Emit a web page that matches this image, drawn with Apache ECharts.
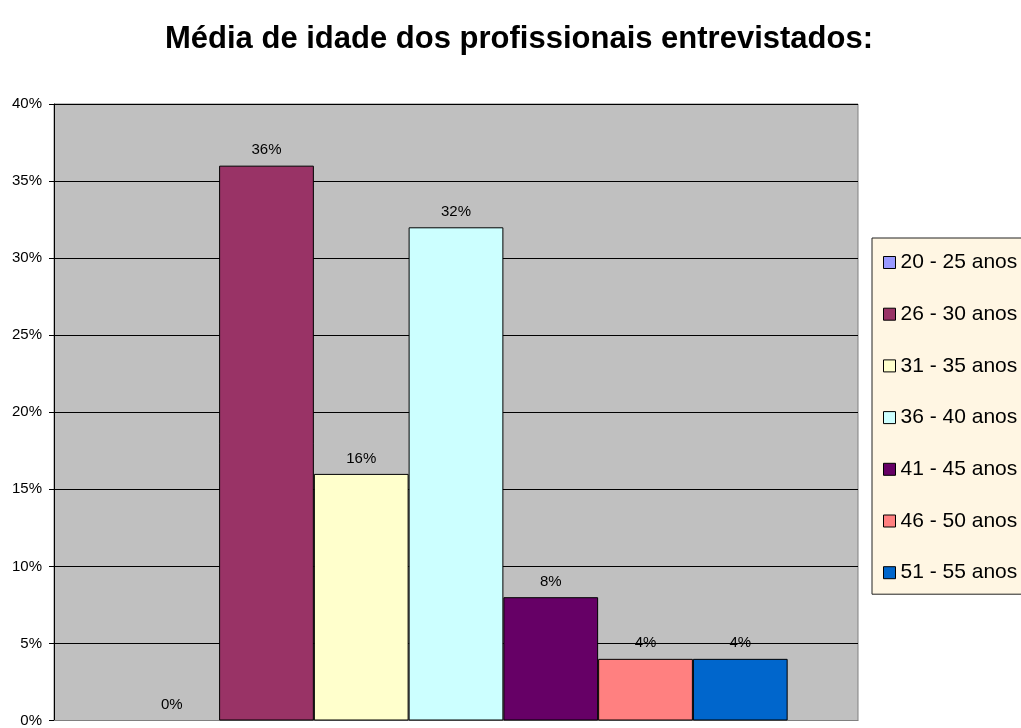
<!DOCTYPE html>
<html>
<head>
<meta charset="utf-8">
<script src="https://cdn.jsdelivr.net/npm/echarts@6/dist/echarts.min.js"></script>
<style>
  html, body { margin: 0; padding: 0; background: #fff; }
  #chart { width: 1021px; height: 728px; }
</style>
</head>
<body>
<div id="chart"></div>
<script>
// Age groups and the share of respondents in each (percent)
const ageGroups = ['20 - 25 anos', '26 - 30 anos', '31 - 35 anos', '36 - 40 anos', '41 - 45 anos', '46 - 50 anos', '51 - 55 anos'];
const shares = [0, 36, 16, 32, 8, 4, 4];
const groupColors = ['#9999FF', '#993366', '#FFFFCC', '#CCFFFF', '#660066', '#FF8080', '#0066CC'];
const yTicks = { min: 0, max: 40, step: 5 };

const font = 'Arial, "Liberation Sans", sans-serif';

const series = ageGroups.map((name, i) => ({
  name: name,
  type: 'bar',
  data: [shares[i]],
  barGap: '0%',
  barCategoryGap: '17.5%',
  // a zero-height bar gets no outline, so only its label shows
  itemStyle: { color: groupColors[i], borderColor: '#000', borderWidth: shares[i] ? 1 : 0 },
  label: {
    show: true,
    position: 'top',
    distance: 8,
    formatter: p => p.value + '%',
    color: '#000',
    fontSize: 15,
    fontFamily: font
  }
}));

const chart = echarts.init(document.getElementById('chart'), null, { renderer: 'canvas' });
chart.setOption({
  animation: false,
  title: {
    text: 'Média de idade dos profissionais entrevistados:',
    left: 514,
    top: 19,
    textAlign: 'center',
    textStyle: { fontFamily: font, fontWeight: 'bold', fontSize: 31, color: '#000' }
  },
  grid: {
    left: 54, right: 163, top: 104, bottom: 5,
    show: true,
    backgroundColor: '#C0C0C0',
    borderColor: '#808080',
    borderWidth: 1
  },
  legend: {
    orient: 'vertical',
    left: 872,
    top: 238,
    padding: [14, 40, 11, 11],
    itemWidth: 12,
    itemHeight: 12,
    itemGap: 30.7,
    backgroundColor: '#FFF6E3',
    borderColor: '#222',
    borderWidth: 1,
    borderRadius: 0,
    icon: 'rect',
    itemStyle: { borderColor: '#000', borderWidth: 1 },
    textStyle: { fontFamily: font, fontSize: 21, lineHeight: 21, color: '#000' },
    data: ageGroups
  },
  xAxis: {
    type: 'category',
    data: [''],
    axisLine: { show: true, lineStyle: { color: '#808080' } },
    axisTick: { show: false },
    axisLabel: { show: false }
  },
  yAxis: {
    type: 'value',
    min: yTicks.min,
    max: yTicks.max,
    interval: yTicks.step,
    axisLine: { show: true, lineStyle: { color: '#000' } },
    axisTick: { show: true, length: 5, lineStyle: { color: '#000' } },
    axisLabel: {
      formatter: v => v + '%',
      fontFamily: font,
      fontSize: 15,
      color: '#000',
      margin: 12
    },
    splitLine: { show: true, lineStyle: { color: '#000', width: 1 } }
  },
  series: series
});
</script>
</body>
</html>
